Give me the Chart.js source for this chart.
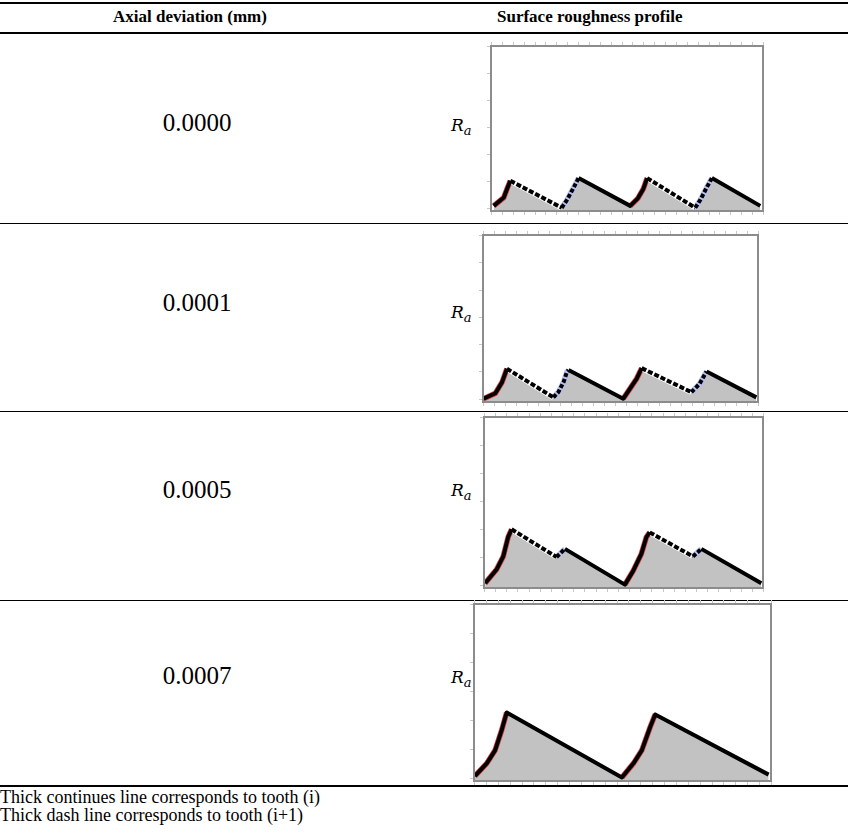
<!DOCTYPE html>
<html>
<head>
<meta charset="utf-8">
<script src="https://cdn.jsdelivr.net/npm/chart.js@4.4.0/dist/chart.umd.min.js"></script>
<style>
  body { margin:0; background:#fff; width:848px; height:840px; position:relative; overflow:hidden;
         font-family:"Liberation Serif","Times New Roman",serif; color:#000; }
  .rule { position:absolute; left:0; width:848px; background:#000; }
  .thick { height:2px; }
  .thin { height:1px; }
  .hdr { position:absolute; top:7px; font-weight:bold; font-size:17px; line-height:20px; white-space:nowrap; }
  .val { position:absolute; left:112px; width:170px; text-align:center; font-size:25px; line-height:26px; }
  .ra { position:absolute; left:451px; font-family:"DejaVu Serif",serif; font-style:italic; font-size:17px; line-height:20px; }
  .ra sub { font-size:13px; }
  canvas { position:absolute; }
  .note { position:absolute; left:0; font-size:18px; line-height:18px; white-space:nowrap; }
</style>
</head>
<body>
<div class="rule thick" style="top:2px"></div>
<div class="hdr" style="left:113px">Axial deviation (mm)</div>
<div class="hdr" style="left:497px">Surface roughness profile</div>
<div class="rule thick" style="top:32px"></div>
<div class="rule thin" style="top:223px"></div>
<div class="rule thin" style="top:411px"></div>
<div class="rule thin" style="top:600px"></div>
<div class="rule thick" style="top:785px"></div>
<div class="note" style="top:788px">Thick continues line corresponds to tooth (i)</div>
<div class="note" style="top:806px">Thick dash line corresponds to tooth (i+1)</div>

<div id="rows"></div>

<script>
// Axial deviation of each row
const deviations = ['0.0000', '0.0001', '0.0005', '0.0007'];

// Profile points: x = position along sampling length (%), y = height
// seg codes per segment: r = rising flank tooth i, b = rising flank tooth i+1,
// s = tooth i (continuous), d = tooth i+1 (dash)
const x1 = [1, 4.7, 6.1, 7.1, 26, 28, 30.4, 32.2, 51.2, 54, 56, 57.4, 75.1, 77, 79.3, 81.2, 99];
const y1 = [0.07, 0.38, 0.75, 1.0, 0, 0.3, 0.75, 1.1, 0.07, 0.35, 0.7, 1.1, 0, 0.3, 0.75, 1.1, 0.07];
const seg1 = ['r','r','r','d','b','b','b','s','r','r','r','d','b','b','b','s'];

const x2 = [0.2, 4.5, 6.9, 8.7, 25.6, 27.4, 29.3, 30.5, 31.1, 51, 53.4, 55.9, 57.7, 75.8, 78.8, 81.3, 99.4];
const y2 = [0, 0.2, 0.6, 1.1, 0.05, 0.24, 0.61, 0.98, 1.05, 0, 0.36, 0.74, 1.12, 0.24, 0.55, 1.0, 0.05];
const seg2 = ['r','r','r','d','b','b','b','b','s','r','r','r','d','b','b','s'];

const x3 = [0.4, 4.5, 6.9, 8.7, 9.9, 26, 29, 50.5, 53.5, 56.4, 58.2, 59.4, 74.9, 77.9, 99.4];
const y3 = [0.05, 0.54, 1.01, 1.72, 1.98, 0.99, 1.28, 0, 0.5, 1.1, 1.7, 1.87, 1.01, 1.28, 0.05];
const seg3 = ['r','r','r','r','d','b','s','r','r','r','r','d','b','s'];

const x4 = [0.3, 4.3, 7.1, 9.3, 11.0, 49.8, 53.7, 56.5, 59.3, 61.0, 99.2];
const y4 = [0.05, 0.49, 0.94, 1.63, 2.25, 0, 0.49, 0.94, 1.74, 2.18, 0.1];
const seg4 = ['r','r','r','r','s','r','r','r','r','s'];

const yTicks = [0, 1, 2, 3, 4, 5, 6];

const profiles = [
    {x: x1, y: y1, seg: seg1},
    {x: x2, y: y2, seg: seg2},
    {x: x3, y: y3, seg: seg3},
    {x: x4, y: y4, seg: seg4}
];

// layout of each row (page pixels)
const boxes = [
    {left: 491, top: 46, w: 272, h: 165, val: 110, ra: 115},
    {left: 483, top: 235, w: 275, h: 167, val: 290, ra: 302},
    {left: 484, top: 417, w: 279, h: 171, val: 477, ra: 480},
    {left: 474, top: 604, w: 297, h: 177, val: 663, ra: 667}
];
const PAD = 5;

// frame + outside tick marks, positioned from the chart scales
const frame = {
    id: 'frame',
    afterDatasetsDraw(chart) {
        const {ctx, chartArea: a, scales} = chart;
        ctx.save();
        ctx.strokeStyle = '#c8c8c8';
        ctx.lineWidth = 1;
        ctx.beginPath();
        yTicks.forEach(v => {
            const py = Math.round(scales.y.getPixelForValue(v)) + 0.5;
            ctx.moveTo(a.left - 4, py); ctx.lineTo(a.left - 1, py);
        });
        for (let v = 0; v <= 100; v += 4) {
            const px = Math.round(scales.x.getPixelForValue(v)) + 0.5;
            ctx.moveTo(px, a.bottom + 1); ctx.lineTo(px, a.bottom + 4);
            ctx.moveTo(px, a.top - 4); ctx.lineTo(px, a.top - 1);
        }
        ctx.stroke();
        ctx.strokeStyle = '#8c8c8c';
        ctx.lineWidth = 2;
        ctx.strokeRect(a.left, a.top, a.right - a.left, a.bottom - a.top);
        ctx.restore();
    }
};

const rows = document.getElementById('rows');

profiles.forEach((p, i) => {
    const b = boxes[i];

    const v = document.createElement('div');
    v.className = 'val';
    v.style.top = b.val + 'px';
    v.textContent = deviations[i];
    rows.appendChild(v);

    const ra = document.createElement('div');
    ra.className = 'ra';
    ra.style.top = b.ra + 'px';
    ra.innerHTML = 'R<sub>a</sub>';
    rows.appendChild(ra);

    const cv = document.createElement('canvas');
    cv.width = b.w + PAD * 2;
    cv.height = b.h + PAD * 2;
    cv.style.left = (b.left - PAD) + 'px';
    cv.style.top = (b.top - PAD) + 'px';
    rows.appendChild(cv);

    const pts = p.x.map((x, k) => ({x: x, y: p.y[k]}));
    const code = c => p.seg[c.p0DataIndex];

    new Chart(cv.getContext('2d'), {
        type: 'line',
        data: {
            datasets: [
                {   // main profile line (drawn on top)
                    order: 0,
                    data: pts,
                    pointRadius: 0,
                    fill: false,
                    borderWidth: 4,
                    borderColor: '#000',
                    borderCapStyle: 'butt',
                    borderJoinStyle: 'round',
                    segment: {
                        borderDash: c => code(c) === 'd' ? [5, 2] : (code(c) === 'b' ? [4, 2] : undefined)
                    }
                },
                {   // coloured / white under-stroke
                    order: 1,
                    data: pts,
                    pointRadius: 0,
                    fill: false,
                    borderWidth: 5.5,
                    borderColor: 'rgba(0,0,0,0)',
                    segment: {
                        borderColor: c => ({r: '#e04040', b: '#b8c0f4', d: '#ffffff'}[code(c)] || 'rgba(0,0,0,0)')
                    }
                },
                {   // grey area under profile
                    order: 2,
                    data: pts,
                    borderWidth: 0,
                    pointRadius: 0,
                    fill: 'start',
                    backgroundColor: '#c2c2c2'
                }
            ]
        },
        options: {
            responsive: false,
            animation: false,
            events: [],
            layout: {padding: PAD},
            plugins: {legend: {display: false}, tooltip: {enabled: false}},
            scales: {
                x: {type: 'linear', min: 0, max: 100, display: false},
                y: {min: -0.12, max: 6, display: false}
            }
        },
        plugins: [frame]
    });
});
</script>
</body>
</html>
